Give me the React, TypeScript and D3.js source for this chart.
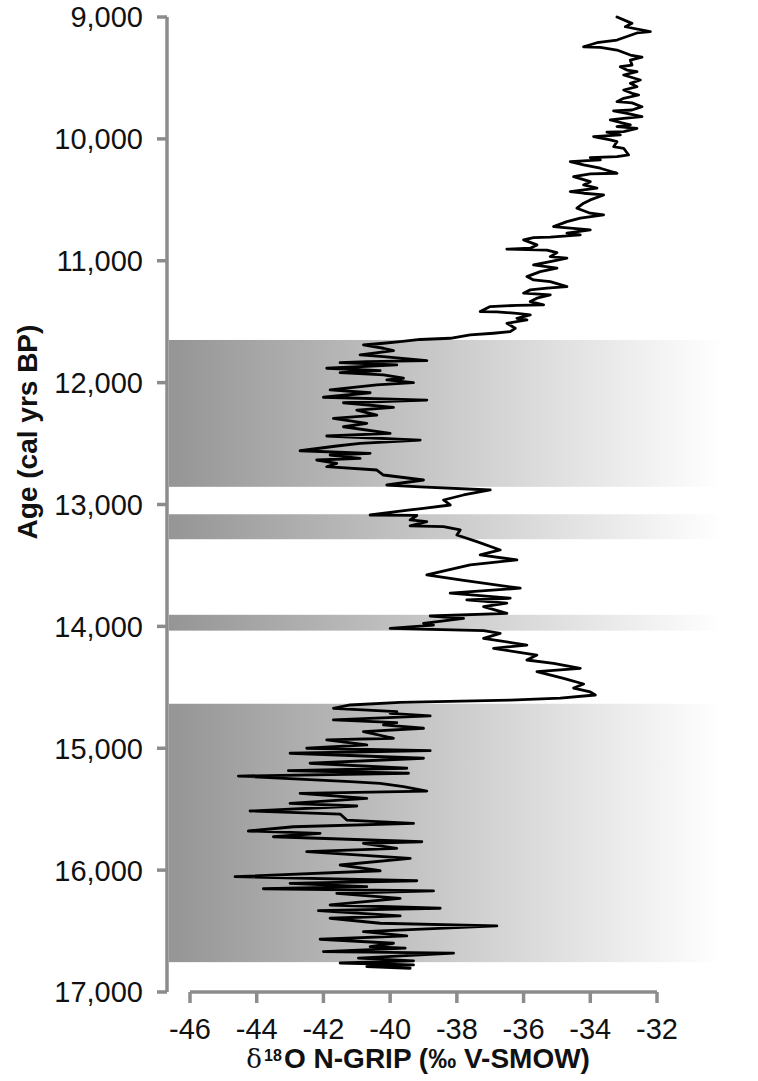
import React from "react";
import * as d3 from "d3";

// N-GRIP oxygen isotope record, 9,000–16,800 cal yrs BP
const ages: number[] = [
  9000, 9052, 9080, 9120, 9131, 9189, 9211, 9244, 9250, 9271, 9312, 9330, 9353, 9394, 9408, 9435,
  9449, 9476, 9517, 9544, 9572, 9599, 9626, 9640, 9667, 9695, 9705, 9736, 9763, 9770, 9790, 9818,
  9831, 9845, 9886, 9900, 9913, 9940, 9945, 9968, 9982, 10009, 10023, 10064, 10077, 10132, 10146,
  10150, 10155, 10173, 10187, 10214, 10241, 10282, 10287, 10310, 10351, 10378, 10405, 10432, 10446,
  10460, 10501, 10528, 10569, 10610, 10624, 10651, 10679, 10720, 10733, 10747, 10774, 10788, 10806,
  10810, 10829, 10870, 10897, 10905, 10912, 10933, 10966, 10979, 11007, 11034, 11061, 11089, 11130,
  11157, 11171, 11212, 11225, 11239, 11266, 11280, 11307, 11335, 11362, 11366, 11376, 11417, 11420,
  11431, 11445, 11472, 11486, 11513, 11554, 11582, 11595, 11609, 11636, 11646, 11664, 11677,
  11691, 11718, 11738, 11773, 11787, 11820, 11828, 11836, 11855, 11882, 11902, 11918, 11937, 11964,
  11978, 12000, 12019, 12060, 12083, 12120, 12143, 12165, 12203, 12225, 12266, 12293, 12334, 12362,
  12416, 12438, 12471, 12498, 12520, 12559, 12580, 12594, 12621, 12635, 12662, 12690, 12717, 12758,
  12799, 12840, 12855, 12881, 12922, 12963, 13004, 13031, 13045, 13086, 13090, 13127, 13141, 13176,
  13182, 13209, 13250, 13305, 13373, 13414, 13455, 13496, 13578, 13619, 13687, 13728, 13769, 13783,
  13810, 13838, 13893, 13915, 13934, 13975, 13989, 14016, 14035, 14057, 14098, 14153, 14180, 14235,
  14276, 14303, 14344, 14372, 14426, 14473, 14506, 14538, 14563, 14588, 14605, 14623, 14645, 14672,
  14700, 14713, 14735, 14768, 14790, 14809, 14836, 14864, 14918, 14932, 14973, 15000, 15020, 15041,
  15082, 15123, 15164, 15184, 15205, 15228, 15274, 15288, 15315, 15351, 15370, 15411, 15452, 15474,
  15515, 15540, 15589, 15616, 15644, 15679, 15698, 15726, 15767, 15780, 15821, 15849, 15903, 15958,
  16005, 16054, 16087, 16108, 16136, 16153, 16171, 16190, 16231, 16286, 16313, 16333, 16376, 16395,
  16436, 16458, 16505, 16540, 16567, 16600, 16627, 16640, 16668, 16681, 16722, 16744, 16762, 16778,
  16791, 16805,
];

const d18O: number[] = [
  -33.2, -32.75, -32.95, -32.2, -32.6, -33.2, -33.8, -34.2, -33.7, -33.2, -32.8, -32.45, -32.8, -32.75, -33.1, -32.9,
  -32.6, -33.0, -32.5, -32.8, -32.6, -33.0, -32.75, -32.55, -33.0, -33.2, -32.75, -32.45, -32.75, -33.3, -32.9, -32.45,
  -33.0, -33.4, -32.8, -33.2, -32.6, -33.0, -33.5, -33.1, -33.9, -33.4, -33.2, -33.3, -33.0, -32.85, -33.2,
  -33.6, -34.0, -33.7, -34.6, -34.2, -33.7, -33.2, -34.0, -34.5, -34.0, -34.2, -33.8, -34.6, -34.2,
  -33.6, -34.0, -34.2, -34.4, -34.0, -33.6, -34.3, -34.7, -35.1, -34.6, -34.0, -34.7, -34.3, -35.2,
  -35.7, -36.0, -35.6, -35.8, -36.5, -35.3, -35.0, -35.2, -34.7, -35.2, -35.7, -35.0, -35.5, -35.9,
  -35.7, -35.2, -34.7, -35.3, -35.8, -36.0, -35.2, -35.6, -35.8, -35.4, -36.2, -37.0, -37.3, -36.8,
  -36.2, -35.8, -36.2, -35.9, -36.5, -36.25, -36.4, -36.9, -37.6, -38.2, -39.1, -39.7, -40.2,
  -40.8, -40.2, -39.9, -40.9, -40.2, -38.9, -40.7, -41.5, -39.8, -41.9, -40.3, -41.5, -40.2, -39.6,
  -40.1, -39.3, -40.4, -41.8, -40.6, -42.0, -38.9, -41.4, -39.9, -41.0, -40.4, -41.7, -40.7, -41.4,
  -40.0, -41.9, -39.1, -40.9, -41.6, -42.7, -40.6, -41.8, -40.9, -42.2, -41.6, -41.9, -40.4, -40.2,
  -39.0, -40.1, -39.1, -37.0, -37.8, -38.4, -38.2, -39.0, -39.4, -40.6, -39.2, -39.4, -38.9, -39.4,
  -38.4, -37.9, -38.0, -37.4, -36.7, -37.3, -36.2, -37.6, -38.9, -37.9, -36.1, -38.2, -36.4, -37.7,
  -36.5, -37.2, -36.5, -38.8, -37.8, -39.0, -38.7, -40.0, -37.2, -36.7, -37.2, -35.9, -36.9, -35.6,
  -35.9, -35.1, -34.3, -35.6, -34.8, -34.2, -34.5, -34.0, -33.85, -34.9, -36.4, -39.7, -41.2, -41.7,
  -39.8, -40.0, -38.8, -41.7, -39.8, -40.2, -39.0, -40.8, -39.9, -41.9, -40.7, -42.5, -38.8, -43.0,
  -39.0, -42.4, -39.5, -43.05, -39.45, -44.55, -41.2, -40.3, -39.6, -38.9, -42.7, -40.7, -43.0, -41.0,
  -44.2, -41.5, -41.3, -39.3, -42.9, -44.25, -42.1, -43.5, -39.05, -40.8, -39.8, -42.5, -39.4, -41.5,
  -40.3, -44.65, -39.2, -43.0, -40.7, -43.8, -38.7, -41.6, -39.7, -41.8, -38.5, -42.15, -39.7, -41.8,
  -40.3, -36.8, -40.8, -39.5, -42.1, -39.9, -40.6, -39.55, -42.0, -38.1, -40.95, -39.3, -41.5, -39.3,
  -40.7, -39.4,
];

// Shaded cold intervals (start, end) in cal yrs BP
const bandStarts: number[] = [11650, 13080, 13905, 14635];
const bandEnds: number[] = [12855, 13285, 14035, 16755];

const yTicks: number[] = [9000, 10000, 11000, 12000, 13000, 14000, 15000, 16000, 17000];
const xTicks: number[] = [-46, -44, -42, -40, -38, -36, -34, -32];

const W = 758;
const H = 1081;
const FONT = "'Liberation Sans', Arial, Helvetica, sans-serif";
const AXIS = "#8c8c8c";

export default function App() {
  const x = d3.scaleLinear().domain([-46, -32]).range([190, 657]);
  const y = d3.scaleLinear().domain([9000, 17000]).range([17, 992]);
  const yAxisX = 167;
  const xAxisY = 992;
  const bandLeft = yAxisX + 2;
  const bandRight = 722;
  const titleY = 1068;

  const points = ages.map((a, i) => [a, d18O[i]] as [number, number]);
  const line = d3
    .line<[number, number]>()
    .x((d) => x(d[1]))
    .y((d) => y(d[0]));

  const fmt = d3.format(",");

  return (
    <svg
      width={W}
      height={H}
      viewBox={`0 0 ${W} ${H}`}
      style={{ position: "absolute", left: 0, top: 0, background: "#fff" }}
    >
      <defs>
        <linearGradient id="coldFill" x1="0" x2="1" y1="0" y2="0">
          <stop offset="0%" stopColor="#959595" />
          <stop offset="100%" stopColor="#ffffff" />
        </linearGradient>
      </defs>
      <rect width={W} height={H} fill="#fff" />

      {bandStarts.map((s, i) => (
        <rect
          key={`band-${i}`}
          x={bandLeft}
          y={y(s)}
          width={bandRight - bandLeft}
          height={y(bandEnds[i]) - y(s)}
          fill="url(#coldFill)"
        />
      ))}

      {/* vertical age axis */}
      <line x1={yAxisX} x2={yAxisX} y1={y(9000)} y2={y(17000)} stroke={AXIS} strokeWidth={3.5} />
      {yTicks.map((t) => (
        <g key={`yt-${t}`}>
          <line x1={yAxisX - 10} x2={yAxisX} y1={y(t)} y2={y(t)} stroke={AXIS} strokeWidth={3.5} />
          <text
            x={143}
            y={y(t)}
            dy="0.36em"
            textAnchor="end"
            fontFamily={FONT}
            fontSize={29}
            fill="#111"
          >
            {fmt(t)}
          </text>
        </g>
      ))}

      {/* horizontal isotope axis */}
      <line x1={x(-46)} x2={x(-32)} y1={xAxisY} y2={xAxisY} stroke={AXIS} strokeWidth={3.5} />
      {xTicks.map((t) => (
        <g key={`xt-${t}`}>
          <line x1={x(t)} x2={x(t)} y1={xAxisY} y2={xAxisY + 11} stroke={AXIS} strokeWidth={3.5} />
          <text
            x={x(t)}
            y={1039}
            textAnchor="middle"
            fontFamily={FONT}
            fontSize={29}
            fill="#111"
          >
            {String(t)}
          </text>
        </g>
      ))}

      <path
        d={line(points) ?? ""}
        fill="none"
        stroke="#000"
        strokeWidth={2.8}
        strokeLinejoin="round"
        strokeLinecap="round"
      />

      {/* x-axis title: delta symbol, superscript mass number, then the rest */}
      <text
        x={262}
        y={titleY}
        textAnchor="end"
        fontFamily="'DejaVu Serif', 'Liberation Serif', serif"
        fontSize={26}
        fill="#111"
      >
        δ
      </text>
      <text x={264} y={titleY - 7} fontFamily={FONT} fontSize={16} fontWeight="bold" fill="#111">
        18
      </text>
      <text x={284} y={titleY} fontFamily={FONT} fontSize={28} fontWeight="bold" fill="#111">
        O N-GRIP (‰ V-SMOW)
      </text>

      <text
        transform="translate(37,432) rotate(-90)"
        textAnchor="middle"
        fontFamily={FONT}
        fontSize={28}
        fontWeight="bold"
        fill="#111"
      >
        Age (cal yrs BP)
      </text>
    </svg>
  );
}
